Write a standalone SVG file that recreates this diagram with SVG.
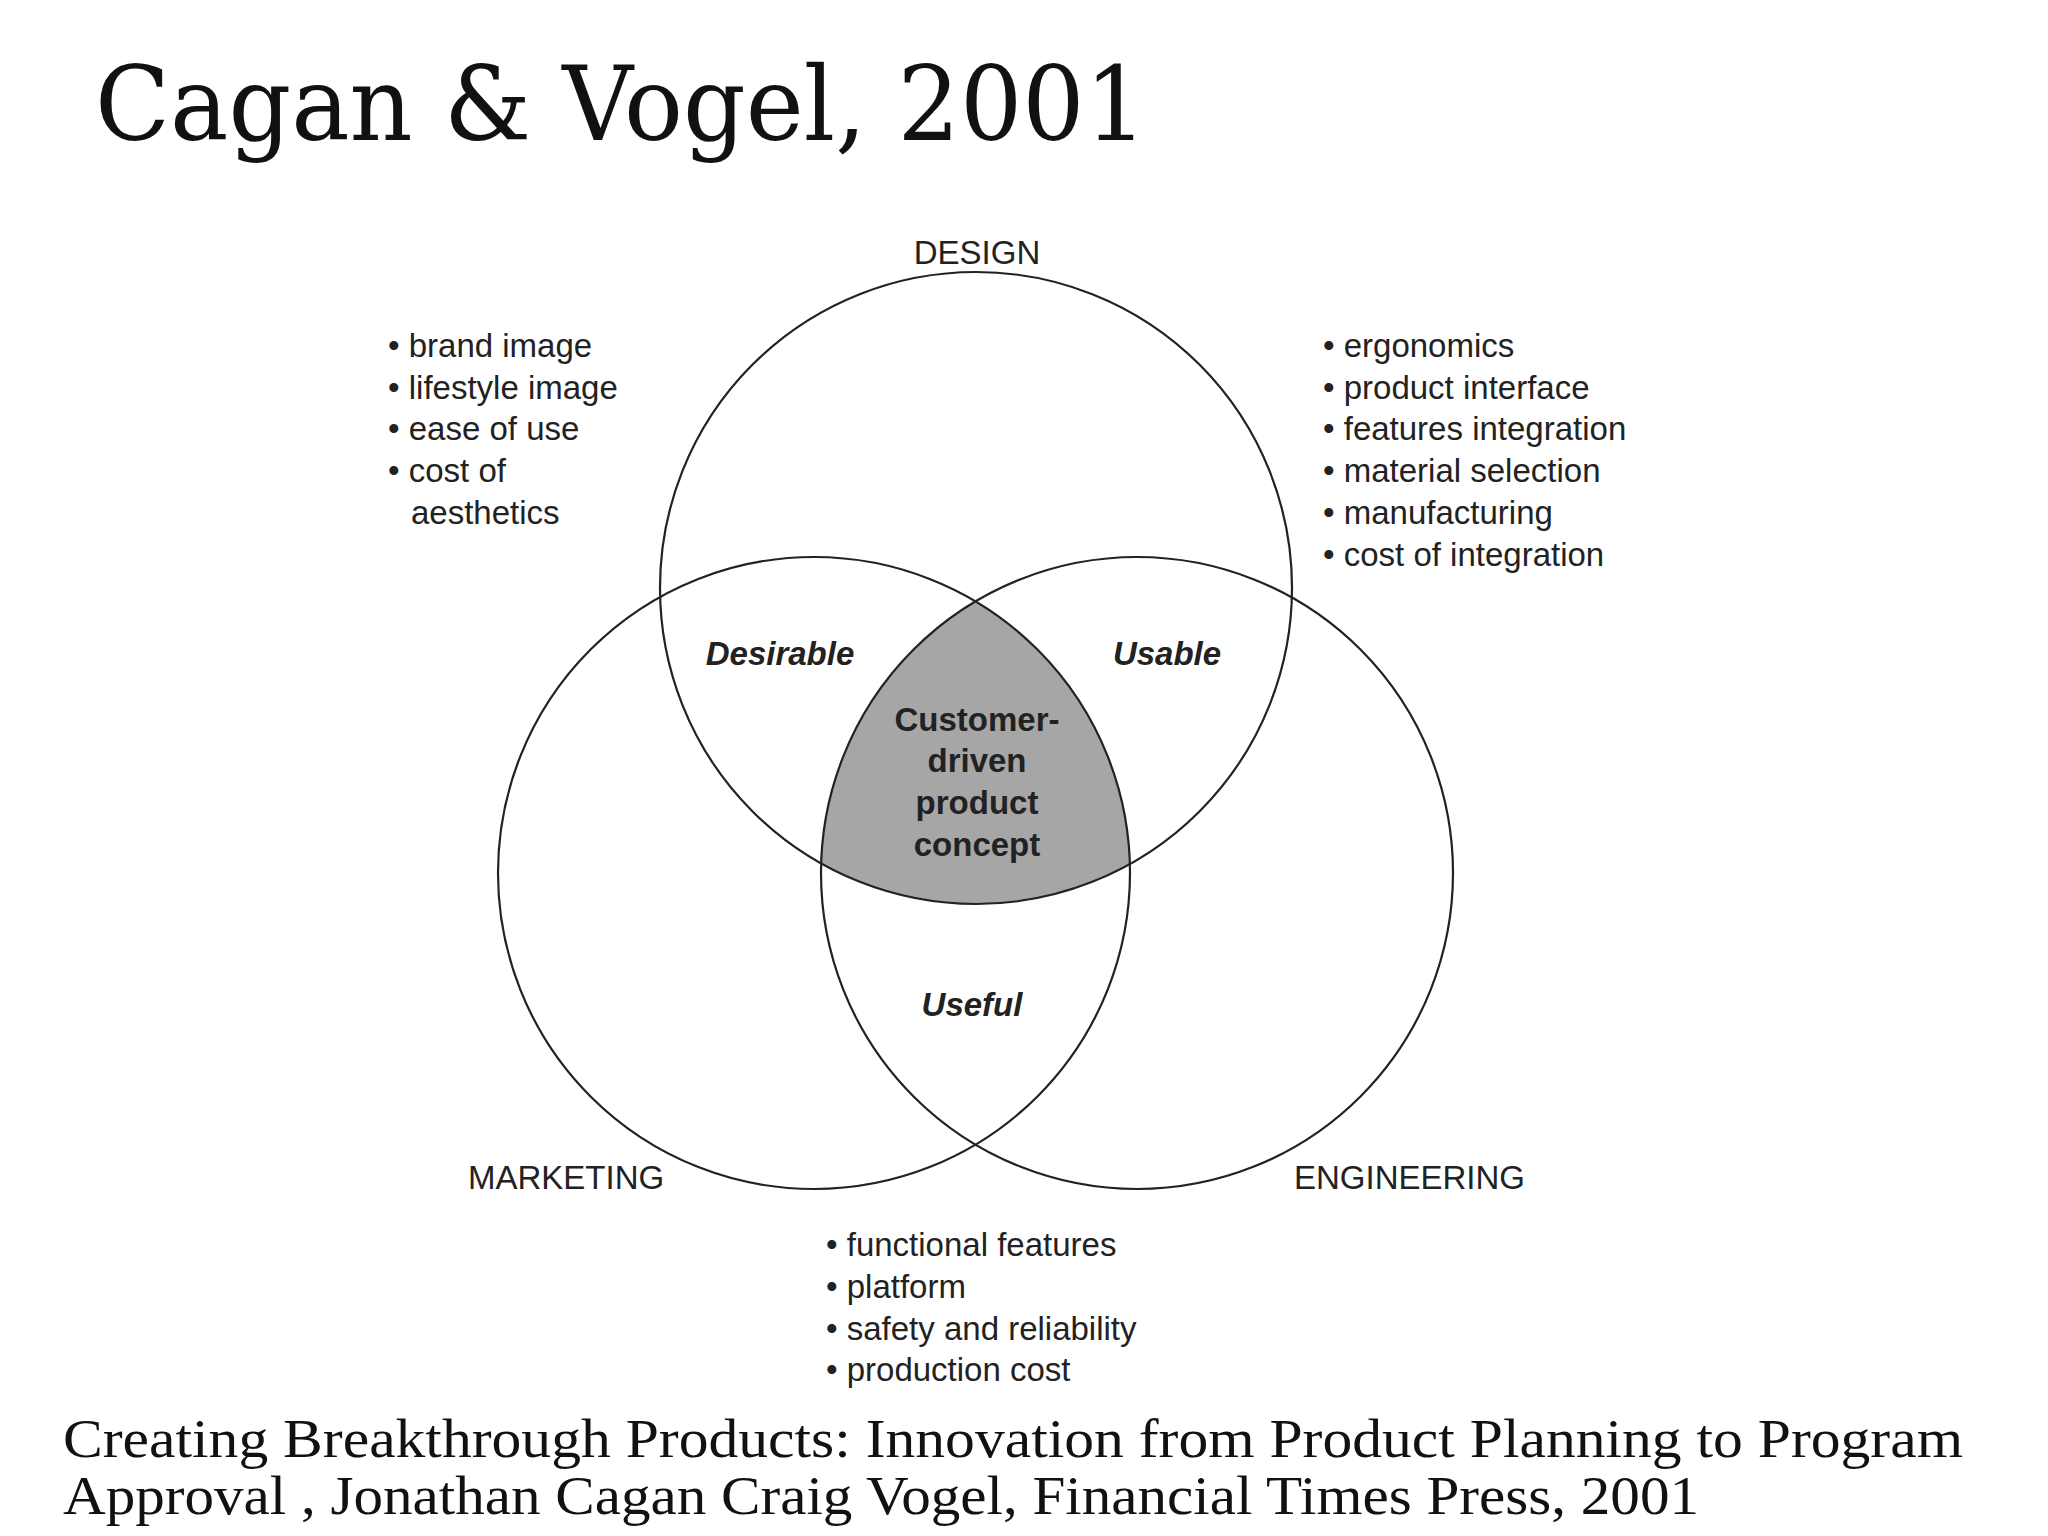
<svg xmlns="http://www.w3.org/2000/svg" width="2048" height="1536" viewBox="0 0 2048 1536">
<style>
.c{fill:none;stroke:#222;stroke-width:2.2}
.t{font-family:"Liberation Sans",Arial,sans-serif;font-size:33px;fill:#222}
.m{text-anchor:middle}
.bi{font-weight:bold;font-style:italic}
.b{font-weight:bold}
.cap{font-family:"Liberation Serif","Times New Roman",serif;font-size:54px;fill:#111}
</style>
<defs>
<clipPath id="cm"><circle cx="814" cy="873" r="316"/></clipPath>
<clipPath id="ce"><circle cx="1137" cy="873" r="316"/></clipPath>
</defs>
<rect width="2048" height="1536" fill="#fff"/>
<text x="95" y="140" font-family="'DejaVu Serif',serif" font-size="102" fill="#111" textLength="1052" lengthAdjust="spacingAndGlyphs">Cagan &amp; Vogel, 2001</text>
<g id="center-shade" clip-path="url(#cm)"><circle cx="976" cy="588" r="316" fill="#a6a6a6" clip-path="url(#ce)"/></g>
<g id="design"><circle class="c" cx="976" cy="588" r="316"/><text class="t m" x="977" y="264">DESIGN</text></g>
<g id="marketing"><circle class="c" cx="814" cy="873" r="316"/><text class="t" x="468" y="1189">MARKETING</text></g>
<g id="engineering"><circle class="c" cx="1137" cy="873" r="316"/><text class="t" x="1294" y="1189">ENGINEERING</text></g>
<g id="labels">
<text class="t m bi" x="780" y="665">Desirable</text>
<text class="t m bi" x="1167" y="665">Usable</text>
<text class="t m bi" x="972" y="1016">Useful</text>
<text class="t m b" x="977" y="731">Customer-</text>
<text class="t m b" x="977" y="772">driven</text>
<text class="t m b" x="977" y="814">product</text>
<text class="t m b" x="977" y="856">concept</text>
</g>
<g id="left-list">
<text class="t" x="388" y="357">• brand image</text>
<text class="t" x="388" y="399">• lifestyle image</text>
<text class="t" x="388" y="440">• ease of use</text>
<text class="t" x="388" y="482">• cost of</text>
<text class="t" x="411" y="524">aesthetics</text>
</g>
<g id="right-list">
<text class="t" x="1323" y="357">• ergonomics</text>
<text class="t" x="1323" y="399">• product interface</text>
<text class="t" x="1323" y="440">• features integration</text>
<text class="t" x="1323" y="482">• material selection</text>
<text class="t" x="1323" y="524">• manufacturing</text>
<text class="t" x="1323" y="566">• cost of integration</text>
</g>
<g id="bottom-list">
<text class="t" x="826" y="1256">• functional features</text>
<text class="t" x="826" y="1298">• platform</text>
<text class="t" x="826" y="1340">• safety and reliability</text>
<text class="t" x="826" y="1381">• production cost</text>
</g>
<text class="cap" x="63" y="1457" textLength="1900" lengthAdjust="spacingAndGlyphs">Creating Breakthrough Products: Innovation from Product Planning to Program</text>
<text class="cap" x="63" y="1514" textLength="1636" lengthAdjust="spacingAndGlyphs">Approval , Jonathan Cagan Craig Vogel, Financial Times Press, 2001</text>
</svg>
